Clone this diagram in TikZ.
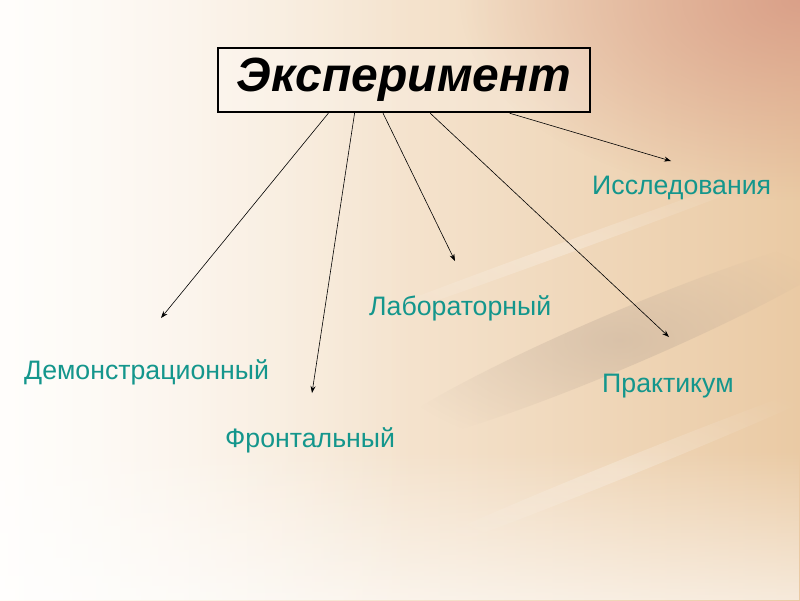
\documentclass[tikz,border=0pt]{standalone}
\usepackage{fontspec}
\setmainfont{Liberation Sans}
\usetikzlibrary{arrows.meta,fadings,calc}
\definecolor{bgL}{RGB}{255,252,247}
\definecolor{bgR}{RGB}{234,202,164}
\definecolor{pinkc}{RGB}{214,150,130}
\definecolor{streak}{RGB}{185,165,148}
\definecolor{teal}{RGB}{20,150,140}
\tikzfading[name=myfade,inner color=transparent!0,outer color=transparent!100]
\begin{document}
\begin{tikzpicture}[x=1pt,y=-1pt,
  lbl/.style={text=teal,font=\fontsize{26.7}{32}\selectfont,anchor=west,inner sep=0pt},
  arr/.style={-{Stealth[length=7pt,width=5pt]},line width=0.6pt,black}]
\useasboundingbox (0,0) rectangle (800,600);
% background
\shade[left color=bgL,right color=bgR] (0,0) rectangle (800,600);
\fill[white,path fading=north,opacity=0.6] (0,450) rectangle (800,600);
\fill[white,path fading=east,opacity=0.6] (0,0) rectangle (420,600);
\fill[pinkc,path fading=myfade,opacity=0.8] (800,0) ellipse (340 and 200);
\begin{scope}[rotate around={23:(620,340)}]
\fill[streak,path fading=myfade,opacity=0.4] (620,340) ellipse (260 and 28);
\end{scope}
\begin{scope}[rotate around={20:(560,250)}]
\fill[white,path fading=myfade,opacity=0.25] (560,250) ellipse (300 and 6);
\end{scope}
\begin{scope}[rotate around={22:(620,470)}]
\fill[white,path fading=myfade,opacity=0.25] (620,470) ellipse (260 and 9);
\end{scope}
% title
\node[draw=black,line width=2.4pt,fill=white,fill opacity=0.2,text opacity=1,draw opacity=1,
  minimum width=372pt,minimum height=64pt,inner sep=0pt,
  font=\fontsize{48}{54}\selectfont\bfseries\itshape] (t) at (404,80) {\raisebox{-2pt}{Эксперимент}};
% labels
\node[lbl] (issl) at (592,188) {Исследования};
\node[lbl] (lab) at (369,308) {Лабораторный};
\node[lbl] (dem) at (24,372) {Демонстрационный};
\node[lbl] (prak) at (602,386) {Практикум};
\node[lbl] (fron) at (225,440) {Фронтальный};
% arrow ends
\coordinate (e1) at (161,318);
\coordinate (e2) at (312,393);
\coordinate (e3) at (455,261);
\coordinate (e4) at (669,337);
\coordinate (e5) at (671,161);
\draw[arr] ($(t.south west)!0.298!(t.south east)$) -- (e1);
\draw[arr] ($(t.south west)!0.368!(t.south east)$) -- (e2);
\draw[arr] ($(t.south west)!0.444!(t.south east)$) -- (e3);
\draw[arr] ($(t.south west)!0.570!(t.south east)$) -- (e4);
\draw[arr] ($(t.south west)!0.782!(t.south east)$) -- (e5);
\end{tikzpicture}
\end{document}
